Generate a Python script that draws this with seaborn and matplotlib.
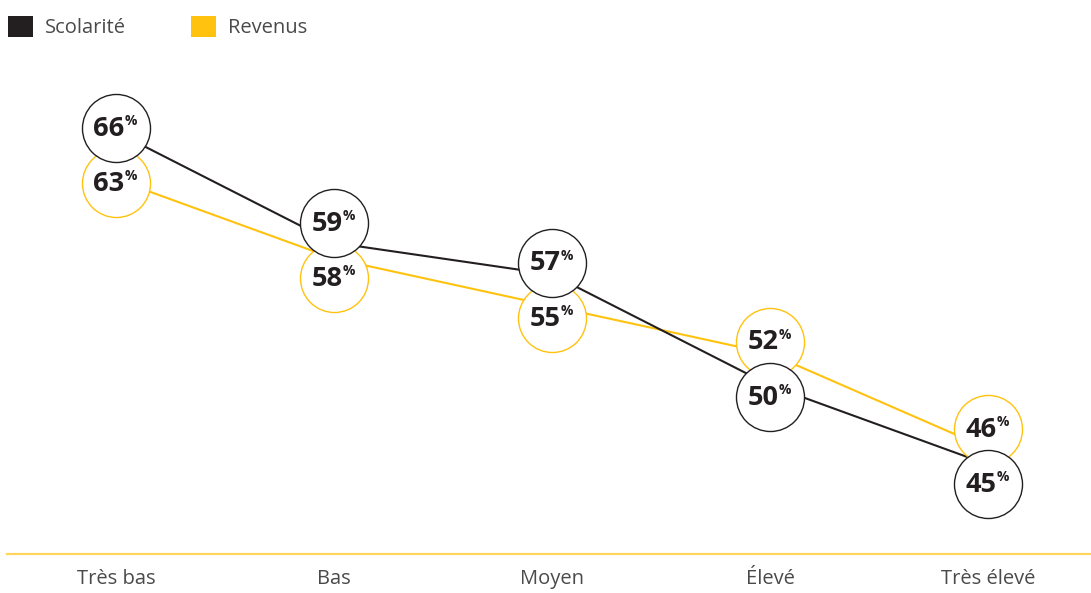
import matplotlib
matplotlib.use("Agg")
import matplotlib.pyplot as plt
import numpy as np
import pandas as pd
import seaborn as sns
from matplotlib.patches import Patch

# Share of respondents by level, for two socio-economic measures
categories = ["Très bas", "Bas", "Moyen", "Élevé", "Très élevé"]
scolarite = [66, 59, 57, 50, 45]
revenus = [63, 58, 55, 52, 46]
series_names = ["Scolarité", "Revenus"]

BLACK = "#231f20"
YELLOW = "#ffc20e"
AXIS_YELLOW = "#ffd55c"
TEXT_GREY = "#4a4a4a"

sns.set_theme(style="white")
plt.rcParams["font.family"] = ["Open Sans", "DejaVu Sans"]

W, H = 1091, 593
fig = plt.figure(figsize=(W / 100, H / 100), dpi=100)
ax = fig.add_axes([7 / W, (H - 554) / H, 1084 / W, (554 - 60) / H])

# Long-form table for seaborn
rows = []
for i, cat in enumerate(categories):
    rows.append({"pos": i, "niveau": cat, "serie": series_names[0], "valeur": scolarite[i]})
    rows.append({"pos": i, "niveau": cat, "serie": series_names[1], "valeur": revenus[i]})
df = pd.DataFrame(rows)

# Keep the two value bubbles of one level from sitting on top of each other
MIN_SEP = 3.5
def dodge(group):
    g = group.copy()
    v = g["valeur"].to_numpy(dtype=float)
    if abs(v[0] - v[1]) < MIN_SEP:
        mid = v.mean()
        hi, lo = mid + MIN_SEP / 2, mid - MIN_SEP / 2
        v = np.where(v >= v.max(), hi, lo) if v[0] != v[1] else np.array([hi, lo])
    g["bulle"] = v
    return g
df = pd.concat([dodge(g) for _, g in df.groupby("pos")], ignore_index=True)

palette = {series_names[0]: BLACK, series_names[1]: YELLOW}

# Lines, yellow first so the black one sits above it
for name, z in [(series_names[1], 1), (series_names[0], 2)]:
    sub = df[df["serie"] == name].sort_values("pos")
    sns.lineplot(data=sub, x="pos", y="valeur", color=palette[name],
                 linewidth=1.5, ax=ax, zorder=z, legend=False)

# Bubbles with the value label
for name, zc in [(series_names[1], 3), (series_names[0], 5)]:
    sub = df[df["serie"] == name]
    sns.scatterplot(data=sub, x="pos", y="bulle", s=2400, color="white",
                    edgecolor=palette[name], linewidth=1.0, ax=ax,
                    zorder=zc, legend=False)
    for _, r in sub.iterrows():
        ax.annotate(f"{r['valeur']}", (r["pos"], r["bulle"]), xytext=(6, -0.5),
                    textcoords="offset points", ha="right", va="center",
                    fontsize=19.5, fontweight="bold", color=BLACK, zorder=zc + 1)
        ax.annotate("%", (r["pos"], r["bulle"]), xytext=(6, 5),
                    textcoords="offset points", ha="left", va="center",
                    fontsize=10, fontweight="bold", color=BLACK, zorder=zc + 1)

ax.set_xlim(-0.5, -0.5 + 1084 / 218)
ax.set_ylim(39.35, 70.54)
ax.set_xticks(range(len(categories)))
ax.set_xticklabels(categories, fontsize=14.5, color=TEXT_GREY)
ax.tick_params(axis="x", length=0, pad=11)
ax.set_yticks([])
ax.set_xlabel("")
ax.set_ylabel("")
for side in ["top", "right", "left"]:
    ax.spines[side].set_visible(False)
ax.spines["bottom"].set_color(AXIS_YELLOW)
ax.spines["bottom"].set_linewidth(1.6)
ax.grid(False)

handles = [Patch(facecolor=BLACK, edgecolor="none"), Patch(facecolor=YELLOW, edgecolor="none")]
fig.legend(handles, series_names, loc="upper left", bbox_to_anchor=(-2 / W, 1 - 6 / H),
           ncol=2, frameon=False, borderpad=0, fontsize=14.5, handlelength=1.25,
           handleheight=1.25, handletextpad=0.6, columnspacing=3.2,
           labelcolor=TEXT_GREY)

fig.savefig("out.png", dpi=100)
